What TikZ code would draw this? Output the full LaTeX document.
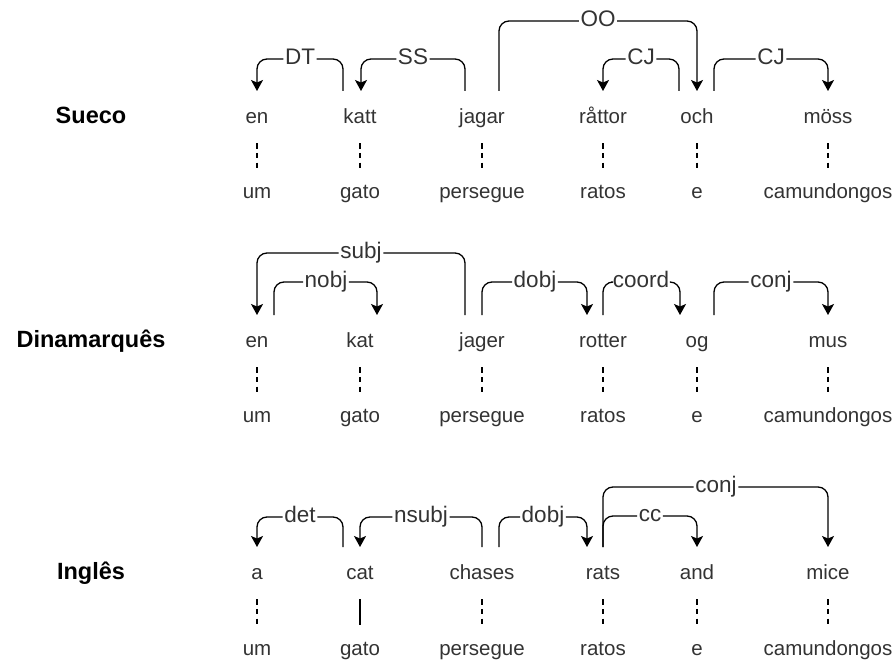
\documentclass[tikz,border=0pt]{standalone}
\usepackage{fontspec}
\setmainfont{Liberation Sans}
\usetikzlibrary{arrows.meta}
\begin{document}
\begin{tikzpicture}[x=1pt,y=-1pt,
 word/.style={font=\fontsize{20.5}{24}\selectfont, text=black!80, text height=15pt, text depth=5pt, inner sep=0pt},
 lbl/.style={font=\fontsize{22.5}{26}\selectfont, text=black!80, text height=16.5pt, text depth=6pt, inner sep=1.5pt},
 lang/.style={font=\fontsize{23.5}{28}\selectfont\bfseries, text=black, text height=17pt, text depth=6pt, inner sep=0pt},
 dep/.style={line width=1.3pt, rounded corners=10pt, -{Stealth[length=11pt,width=12pt,inset=2.5pt]}},
 trans/.style={line width=1.3pt, dash pattern=on 5.5pt off 4.25pt},
 solidtrans/.style={line width=1.3pt}]
\useasboundingbox (0,0) rectangle (895,661);

% language titles
\node[lang] (L1) at (91,118) {Sueco};
\node[lang] (L2) at (91,342) {Dinamarquês};
\node[lang] (L3) at (91,574) {Inglês};

% row 1 (Swedish)
\node[word] (a1) at (257,118) {en};
\node[word] (a2) at (360,118) {katt};
\node[word] (a3) at (482,118) {jagar};
\node[word] (a4) at (603,118) {råttor};
\node[word] (a5) at (697,118) {och};
\node[word] (a6) at (828,118) {möss};
\node[word] (b1) at (257,193) {um};
\node[word] (b2) at (360,193) {gato};
\node[word] (b3) at (482,193) {persegue};
\node[word] (b4) at (603,193) {ratos};
\node[word] (b5) at (697,193) {e};
\node[word] (b6) at (828,193) {camundongos};

% row 2 (Danish)
\node[word] (c1) at (257,342) {en};
\node[word] (c2) at (360,342) {kat};
\node[word] (c3) at (482,342) {jager};
\node[word] (c4) at (603,342) {rotter};
\node[word] (c5) at (697,342) {og};
\node[word] (c6) at (828,342) {mus};
\node[word] (d1) at (257,417) {um};
\node[word] (d2) at (360,417) {gato};
\node[word] (d3) at (482,417) {persegue};
\node[word] (d4) at (603,417) {ratos};
\node[word] (d5) at (697,417) {e};
\node[word] (d6) at (828,417) {camundongos};

% row 3 (English)
\node[word] (e1) at (257,574) {a};
\node[word] (e2) at (360,574) {cat};
\node[word] (e3) at (482,574) {chases};
\node[word] (e4) at (603,574) {rats};
\node[word] (e5) at (697,574) {and};
\node[word] (e6) at (828,574) {mice};
\node[word] (f1) at (257,650) {um};
\node[word] (f2) at (360,650) {gato};
\node[word] (f3) at (482,650) {persegue};
\node[word] (f4) at (603,650) {ratos};
\node[word] (f5) at (697,650) {e};
\node[word] (f6) at (828,650) {camundongos};

% translation links
\foreach \i in {1,...,6}{
  \draw[trans] ([yshift=-25pt]a\i.center) -- ([yshift=25pt]b\i.center);
  \draw[trans] ([yshift=-25pt]c\i.center) -- ([yshift=25pt]d\i.center);
}
\foreach \i in {1,3,4,5,6}{
  \draw[trans] ([yshift=-25pt]e\i.center) -- ([yshift=25pt]f\i.center);
}
\draw[solidtrans] ([yshift=-25pt]e2.center) -- ([yshift=25pt]f2.center);

% row 1 arcs
\node[lbl] (lDT) at (300,59) {DT};
\draw[dep] ([xshift=-17pt,yshift=27pt]a2.center) |- (lDT) -| ([yshift=27pt]a1.center);
\node[lbl] (lSS) at (413,59) {SS};
\draw[dep] ([xshift=-17pt,yshift=27pt]a3.center) |- (lSS) -| ([xshift=1pt,yshift=27pt]a2.center);
\node[lbl] (lOO) at (598,21) {OO};
\draw[dep] ([xshift=17pt,yshift=27pt]a3.center) |- (lOO) -| ([yshift=27pt]a5.center);
\node[lbl] (lCJa) at (641,59) {CJ};
\draw[dep] ([xshift=-18pt,yshift=27pt]a5.center) |- (lCJa) -| ([yshift=27pt]a4.center);
\node[lbl] (lCJb) at (771,59) {CJ};
\draw[dep] ([xshift=17pt,yshift=27pt]a5.center) |- (lCJb) -| ([yshift=27pt]a6.center);

% row 2 arcs
\node[lbl] (lsubj) at (361,253) {subj};
\draw[dep] ([xshift=-17pt,yshift=27pt]c3.center) |- (lsubj) -| ([yshift=27pt]c1.center);
\node[lbl] (lnobj) at (326,282) {nobj};
\draw[dep] ([xshift=17pt,yshift=27pt]c1.center) |- (lnobj) -| ([xshift=17pt,yshift=27pt]c2.center);
\node[lbl] (ldobjc) at (535,282) {dobj};
\draw[dep] ([yshift=27pt]c3.center) |- (ldobjc) -| ([xshift=-16pt,yshift=27pt]c4.center);
\node[lbl] (lcoord) at (641,282) {coord};
\draw[dep] ([yshift=27pt]c4.center) |- (lcoord) -| ([xshift=-17pt,yshift=27pt]c5.center);
\node[lbl] (lconjc) at (771,282) {conj};
\draw[dep] ([xshift=17pt,yshift=27pt]c5.center) |- (lconjc) -| ([yshift=27pt]c6.center);

% row 3 arcs
\node[lbl] (ldet) at (300,517) {det};
\draw[dep] ([xshift=-17pt,yshift=27pt]e2.center) |- (ldet) -| ([yshift=27pt]e1.center);
\node[lbl] (lnsubj) at (421,517) {nsubj};
\draw[dep] ([yshift=27pt]e3.center) |- (lnsubj) -| ([yshift=27pt]e2.center);
\node[lbl] (ldobje) at (543,517) {dobj};
\draw[dep] ([xshift=17pt,yshift=27pt]e3.center) |- (ldobje) -| ([xshift=-16pt,yshift=27pt]e4.center);
\node[lbl] (lcc) at (650,516) {cc};
\draw[dep] ([yshift=27pt]e4.center) |- (lcc) -| ([yshift=27pt]e5.center);
\node[lbl] (lconje) at (716,487) {conj};
\draw[dep] ([yshift=27pt]e4.center) |- (lconje) -| ([yshift=27pt]e6.center);
\end{tikzpicture}
\end{document}
